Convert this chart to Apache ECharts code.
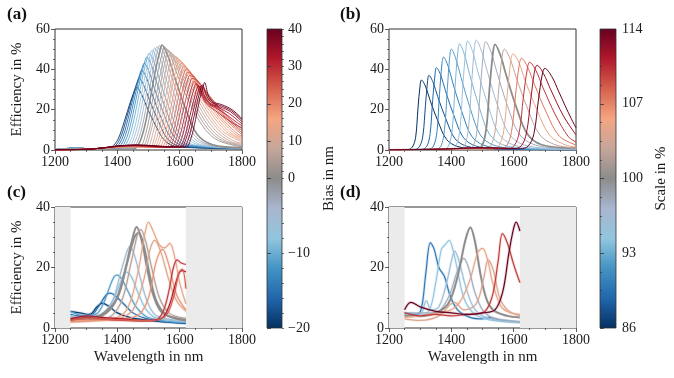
<!DOCTYPE html>
<html><head><meta charset="utf-8">
<script src="https://cdn.jsdelivr.net/npm/echarts@6/dist/echarts.min.js"></script>
<style>html,body{margin:0;padding:0;background:#fff}#c{width:674px;height:378px}</style>
</head><body><div id="c"></div>
<script>
// ---------- axis ranges & ticks ----------
const wavelengthRange = [1200, 1800];
const effRangeTop = [0, 60];
const effRangeBottom = [0, 40];
const measuredRange = [1250, 1620];
const biasTicks = [-20, -10, 0, 10, 20, 30, 40];
const scaleTicks = [86, 93, 100, 107, 114];

// ---------- (a) simulated, bias sweep ----------
const biasA = [-20,-18,-16,-14,-12,-10,-8,-6,-4,-2,0,2,4,6,8,10,12,14,16,18,20,22,24,26,28,30,32,34,36,38,40];
const effA = [
[[1200,0.2],[1270,1.0],[1330,0.4],[1362,0.4],[1382,1.5],[1402,5.3],[1422,14],[1442,23.9],[1456,29.5],[1462,31],[1477,27.9],[1492,22.3],[1522,12.4],[1552,4.7],[1592,1.6],[1800,0.6]],
[[1200,0.2],[1270,1.0],[1330,0.4],[1370,0.4],[1390,1.5],[1410,6],[1430,16],[1450,27.3],[1464,33.7],[1470,35.5],[1485,32],[1501,25.6],[1532,14.2],[1562,5.3],[1603,1.8],[1800,0.7]],
[[1200,0.2],[1270,1.0],[1330,0.4],[1378,0.4],[1398,1.5],[1418,6.7],[1438,17.8],[1458,30.4],[1472,37.5],[1478,39.5],[1494,35.6],[1510,28.4],[1541,15.8],[1573,5.9],[1615,2],[1800,0.8]],
[[1200,0.2],[1270,1.0],[1330,0.4],[1386,0.4],[1406,1.5],[1426,7.3],[1446,19.4],[1466,33.1],[1480,40.9],[1486,43],[1502,38.7],[1518,31],[1551,17.2],[1583,6.5],[1626,2.2],[1800,0.9]],
[[1200,0.2],[1270,1.0],[1330,0.4],[1394,0.4],[1414,1.5],[1434,7.8],[1454,20.7],[1474,35.4],[1488,43.7],[1494,46],[1511,41.4],[1527,33.1],[1560,18.4],[1593,6.9],[1637,2.3],[1800,0.9]],
[[1200,0.2],[1270,1.0],[1330,0.4],[1402,0.4],[1422,1.5],[1442,8.2],[1462,21.6],[1482,37],[1496,45.6],[1502,48],[1519,43.2],[1536,34.6],[1570,19.2],[1603,7.2],[1648,2.4],[1800,1]],
[[1200,0.2],[1270,0.9],[1330,0.4],[1411,0.4],[1431,1.5],[1451,8.4],[1471,22.3],[1491,38.1],[1505,47],[1511,49.5],[1528,44.6],[1546,35.6],[1580,19.8],[1615,7.4],[1661,2.5],[1800,1]],
[[1200,0.2],[1270,0.9],[1330,0.4],[1419,0.4],[1439,1.5],[1459,8.6],[1479,22.7],[1499,38.9],[1513,48],[1519,50.5],[1537,45.5],[1554,36.4],[1590,20.2],[1625,7.6],[1672,2.5],[1800,1]],
[[1200,0.2],[1270,0.8],[1330,0.4],[1427,0.4],[1447,1.5],[1467,8.7],[1487,23.1],[1507,39.5],[1521,48.7],[1527,51.3],[1545,46.2],[1563,36.9],[1599,20.5],[1635,7.7],[1683,2.6],[1800,1]],
[[1200,0.2],[1270,0.7],[1330,0.4],[1435,0.4],[1455,1.5],[1475,8.8],[1495,23.3],[1515,39.9],[1529,49.2],[1535,51.8],[1553,46.6],[1572,37.3],[1609,20.7],[1645,7.8],[1694,2.6],[1800,1.1]],
[[1200,0.1],[1270,0.5],[1330,0.4],[1443,0.4],[1463,1.5],[1483,8.8],[1503,23.4],[1523,40],[1537,49.4],[1543,52],[1562,46.8],[1581,37.4],[1618,20.8],[1656,7.8],[1706,2.6],[1800,1.2]],
[[1200,0.1],[1320,0.5],[1400,1.24],[1450,1.3],[1472,1.5],[1492,8.7],[1511,23],[1531,39.3],[1545,48.5],[1551,51],[1573,45.9],[1594,36.7],[1638,21.4],[1682,10.2],[1725,4.6],[1800,1.5]],
[[1200,0.1],[1320,0.5],[1400,1.28],[1460,1.42],[1480,1.5],[1500,8.5],[1519,22.5],[1539,38.5],[1552,47.5],[1558,50],[1581,45],[1603,36],[1648,21],[1693,10],[1738,4.5],[1800,2]],
[[1200,0.1],[1320,0.5],[1400,1.32],[1460,1.48],[1487,1.5],[1506,8.4],[1526,22.1],[1545,37.9],[1558,46.7],[1564,49.2],[1587,44.3],[1611,35.4],[1657,20.7],[1704,9.8],[1750,4.4],[1800,2.3]],
[[1200,0.1],[1320,0.5],[1400,1.36],[1460,1.54],[1495,1.5],[1514,8.2],[1533,21.7],[1552,37.2],[1565,45.9],[1571,48.3],[1595,43.5],[1619,34.8],[1667,20.3],[1715,9.7],[1763,4.3],[1800,2.8]],
[[1200,0.1],[1320,0.5],[1400,1.4],[1460,1.6],[1503,1.5],[1522,8],[1540,21.3],[1559,36.4],[1572,44.9],[1578,47.3],[1603,42.6],[1628,34.1],[1677,19.9],[1727,9.5],[1776,4.3],[1800,3.4]],
[[1200,0.1],[1320,0.5],[1400,1.44],[1460,1.66],[1486,1.2],[1511,1.5],[1530,7.9],[1548,20.9],[1567,35.7],[1579,44.1],[1585,46.4],[1611,41.8],[1636,33.4],[1687,19.5],[1738,9.3],[1800,4]],
[[1200,0.1],[1320,0.5],[1400,1.48],[1460,1.72],[1494,1.25],[1519,1.5],[1537,7.7],[1556,20.5],[1574,35],[1587,43.2],[1592,45.5],[1618,41],[1645,32.8],[1697,19.1],[1750,9.1],[1800,4.7]],
[[1200,0.1],[1320,0.5],[1400,1.52],[1460,1.78],[1501,1.25],[1526,1.5],[1544,7.6],[1562,20],[1580,34.3],[1593,42.3],[1598,44.5],[1625,40.1],[1652,32],[1706,18.7],[1760,8.9],[1800,5.4]],
[[1200,0.1],[1320,0.5],[1400,1.56],[1460,1.84],[1509,1.3],[1534,1.5],[1552,7.3],[1570,19.4],[1587,33.1],[1600,40.9],[1605,43],[1633,38.7],[1661,31],[1716,18.1],[1772,8.6],[1800,6]],
[[1200,0.1],[1320,0.5],[1400,1.6],[1460,1.9],[1517,1.3],[1542,1.5],[1560,7.1],[1577,18.7],[1595,32],[1607,39.4],[1612,41.5],[1641,37.4],[1669,29.9],[1726,17.4],[1783,8.3],[1800,6.8]],
[[1200,0.1],[1320,0.5],[1400,1.64],[1460,1.96],[1525,1.3],[1550,1.5],[1567,6.8],[1585,18],[1602,30.8],[1614,38],[1619,40],[1648,36],[1678,28.8],[1736,16.8],[1800,7.6]],
[[1200,0.1],[1320,0.5],[1400,1.68],[1460,2.02],[1533,1.35],[1558,1.5],[1575,6.5],[1592,17.3],[1609,29.6],[1621,36.6],[1626,38.5],[1656,34.7],[1686,27.7],[1746,16.2],[1800,8.5]],
[[1200,0.1],[1320,0.5],[1400,1.72],[1460,2.08],[1541,1.35],[1566,1.5],[1582,6.3],[1599,16.7],[1615,28.5],[1627,35.2],[1632,37],[1663,33.3],[1694,26.6],[1755,15.5],[1800,9.5]],
[[1200,0.1],[1320,0.5],[1400,1.76],[1460,2.14],[1549,1.4],[1574,1.5],[1590,6],[1606,16],[1623,27.3],[1634,33.7],[1639,35.5],[1670,32],[1702,25.6],[1765,14.9],[1800,10.5]],
[[1200,0.1],[1320,0.5],[1400,1.8],[1460,2.2],[1557,1.4],[1582,1.5],[1598,5.8],[1614,15.3],[1630,26.2],[1641,32.3],[1646,34],[1664,29],[1685,23],[1715,19.5],[1750,15.5],[1780,12.5],[1800,11]],
[[1200,0.1],[1320,0.5],[1400,1.84],[1460,2.26],[1565,1.45],[1590,1.5],[1606,5.6],[1621,14.9],[1637,25.4],[1648,31.4],[1653,33],[1670,28],[1690,23],[1720,20.5],[1755,17],[1785,13.5],[1800,12]],
[[1200,0.1],[1320,0.5],[1400,1.88],[1460,2.32],[1573,1.45],[1598,1.5],[1614,5.4],[1629,14.4],[1645,24.6],[1655,30.4],[1660,32],[1676,27],[1695,23],[1725,21],[1760,18],[1788,14.5],[1800,13]],
[[1200,0.1],[1320,0.5],[1400,1.92],[1460,2.38],[1580,1.5],[1605,1.5],[1620,5.4],[1636,14.2],[1651,24.3],[1661,29.9],[1666,31.5],[1681,26.5],[1699,23],[1728,21.5],[1763,19],[1790,15.5],[1800,14]],
[[1200,0.1],[1320,0.5],[1400,1.96],[1460,2.44],[1588,1.5],[1613,1.5],[1628,5.5],[1643,14.5],[1658,24.9],[1668,30.7],[1673,32.3],[1687,26.5],[1703,23.5],[1732,22],[1766,19.5],[1792,16],[1800,15]],
[[1200,0.1],[1320,0.5],[1400,2.0],[1460,2.5],[1596,1.5],[1621,1.5],[1636,5.7],[1651,15.1],[1665,25.8],[1676,31.8],[1680,33.5],[1692,27],[1705,24],[1735,22.5],[1768,20],[1794,16.5],[1800,15.5]]
];

// ---------- (b) simulated, scale sweep ----------
const scaleB = [86,87.5,89,90.5,92,93.5,95,96.5,98,100,102.5,105,107.5,110,112,114];
const effB = [
[[1200,0.05],[1250,0.2],[1264,0.3],[1277,2],[1286,6.9],[1293,20.8],[1300,32.3],[1304,34.7],[1318,31.2],[1331,25],[1358,13.9],[1385,5.2],[1421,1.7],[1484,0.5],[1800,0.1]],
[[1200,0.05],[1270,0.2],[1285,0.3],[1299,2],[1309,7.4],[1317,22.2],[1324,34.4],[1328,37],[1342,33.3],[1356,26.6],[1384,14.8],[1412,5.6],[1449,1.9],[1514,0.6],[1800,0.1]],
[[1200,0.05],[1290,0.2],[1307,0.3],[1322,2],[1332,8.2],[1340,24.5],[1348,37.9],[1352,40.8],[1367,36.7],[1381,29.4],[1410,16.3],[1439,6.1],[1478,2],[1546,0.6],[1800,0.15]],
[[1200,0.05],[1310,0.2],[1328,0.3],[1343,2],[1354,9.2],[1362,27.6],[1370,42.8],[1375,46],[1390,41.4],[1405,33.1],[1435,18.4],[1465,6.9],[1505,2.3],[1575,0.7],[1800,0.2]],
[[1200,0.05],[1330,0.2],[1350,0.3],[1367,2],[1378,10],[1387,30],[1395,46.5],[1400,50],[1415,45],[1431,36],[1462,20],[1493,7.5],[1534,2.5],[1606,0.75],[1800,0.2]],
[[1200,0.05],[1350,0.25],[1374,0.3],[1391,2],[1403,10.5],[1412,31.6],[1421,48.9],[1426,52.6],[1442,47.3],[1458,37.9],[1490,21],[1522,7.9],[1565,2.6],[1640,0.8],[1800,0.25]],
[[1200,0.05],[1370,0.25],[1397,0.3],[1415,2],[1428,10.8],[1437,32.4],[1447,50.2],[1452,54],[1469,48.6],[1485,38.9],[1519,21.6],[1552,8.1],[1596,2.7],[1674,0.8],[1800,0.3]],
[[1200,0.05],[1390,0.25],[1422,0.3],[1442,2],[1455,10.9],[1465,32.7],[1474,50.7],[1480,54.5],[1497,49],[1515,39.2],[1549,21.8],[1584,8.2],[1630,2.7],[1710,0.8],[1800,0.4]],
[[1200,0.05],[1410,0.25],[1449,0.3],[1470,2],[1483,10.7],[1494,32.2],[1504,49.9],[1510,53.7],[1528,48.3],[1546,38.7],[1581,21.5],[1617,8.1],[1665,2.7],[1748,0.8],[1800,0.5]],
[[1200,0.05],[1430,0.3],[1477,0.3],[1498,2],[1512,10.5],[1523,31.4],[1534,48.7],[1540,52.4],[1557,47.2],[1575,37.7],[1609,21],[1644,7.9],[1690,2.6],[1800,0.9]],
[[1200,0.05],[1380,0.3],[1450,0.5],[1490,0.4],[1504,0.3],[1526,2],[1541,10],[1552,30],[1563,46.5],[1570,50],[1589,45],[1608,36],[1646,20],[1684,7.5],[1735,2.5],[1800,1]],
[[1200,0.05],[1380,0.35],[1460,0.6],[1510,0.5],[1529,0.4],[1552,2],[1568,9.5],[1580,28.6],[1591,44.4],[1598,47.7],[1618,42.9],[1637,34.3],[1677,19.1],[1716,7.2],[1768,2.4],[1800,1.6]],
[[1200,0.05],[1380,0.4],[1470,0.75],[1530,0.6],[1553,0.5],[1577,2],[1593,9.1],[1606,27.3],[1618,42.3],[1625,45.5],[1645,41],[1666,32.8],[1706,18.2],[1747,6.8],[1800,2.5]],
[[1200,0.05],[1380,0.45],[1480,0.9],[1550,0.7],[1577,0.5],[1601,2],[1618,8.7],[1631,26.1],[1644,40.5],[1651,43.5],[1672,39.2],[1693,31.3],[1734,17.4],[1776,6.5],[1800,4]],
[[1200,0.05],[1380,0.5],[1490,1.0],[1570,0.8],[1598,0.6],[1624,2],[1641,8.4],[1655,25.2],[1667,39.1],[1675,42],[1696,37.8],[1718,30.2],[1760,16.8],[1800,7.5]],
[[1200,0.05],[1380,0.5],[1480,1.2],[1540,1.1],[1590,0.8],[1621,0.6],[1647,2],[1665,8.1],[1679,24.3],[1692,37.7],[1700,40.5],[1722,36.5],[1744,29.2],[1765,22],[1785,15.5],[1800,11]]
];

// ---------- (c) measured, bias sweep ----------
const biasC = [-19,-15,-11,-8,-5,0,0,6,14,12,18,28,32,24];
const effC = [
[[1250,5.5],[1280,5],[1310,4.5],[1335,7],[1352,8.2],[1375,7],[1400,5],[1440,3.5],[1480,2.8],[1530,2.2],[1580,1.8],[1620,1.5]],
[[1250,4.5],[1290,3.8],[1320,4.5],[1345,8],[1365,11],[1378,11.5],[1395,10.5],[1420,8],[1450,5],[1490,3.2],[1550,2.2],[1620,1.6]],
[[1250,5.5],[1290,4.2],[1330,4.5],[1355,8],[1375,13.5],[1390,17],[1400,17.5],[1415,16],[1435,12],[1460,7],[1490,4],[1530,2.6],[1580,2],[1620,1.8]],
[[1250,4.2],[1300,3.5],[1350,4.5],[1385,9],[1410,15],[1428,18.5],[1445,17],[1465,12],[1490,6.5],[1520,3.5],[1570,2.5],[1620,2]],
[[1250,3.8],[1300,3.2],[1350,4],[1385,9],[1410,18],[1430,25],[1440,27],[1455,24],[1475,16],[1495,9],[1520,4.5],[1560,3],[1620,2.3]],
[[1250,3],[1300,3],[1350,4],[1390,8],[1420,17],[1445,28],[1462,33.4],[1478,29],[1495,20],[1515,11],[1540,5.5],[1575,3.5],[1620,2.5]],
[[1250,3.2],[1300,3.3],[1350,4.5],[1400,10],[1430,21],[1455,30],[1468,31.5],[1485,27],[1505,17],[1525,9],[1555,4.5],[1590,3.2],[1620,2.8]],
[[1250,2.5],[1300,2.8],[1360,3],[1410,8],[1445,22],[1465,31],[1475,32.5],[1490,29],[1510,20],[1535,10],[1565,5],[1600,3.5],[1620,3.2]],
[[1250,2.2],[1300,2.5],[1380,3],[1430,6],[1465,18],[1488,31],[1500,35],[1515,32],[1535,27.5],[1552,26.5],[1568,28],[1585,23],[1600,15],[1620,8]],
[[1250,2],[1320,2.3],[1400,3],[1450,6],[1485,16],[1505,26],[1520,29],[1540,25],[1565,16],[1590,9],[1620,5.5]],
[[1250,2],[1330,2.5],[1420,3],[1470,4.5],[1500,10],[1525,22],[1545,26],[1565,21],[1590,11],[1620,6]],
[[1250,2.5],[1300,3.5],[1350,3],[1420,2.5],[1480,2.3],[1520,2.5],[1545,5],[1565,12],[1580,20],[1592,22.5],[1605,21.5],[1620,21]],
[[1250,3],[1300,4],[1350,3.5],[1420,3],[1490,2.5],[1540,3],[1565,7],[1585,14],[1600,18.5],[1610,19],[1620,18.5]],
[[1250,2.5],[1300,3],[1380,2.8],[1450,2.5],[1510,2.5],[1555,4],[1580,10],[1597,18],[1608,19.5],[1620,13]]
];

// ---------- (d) measured, scale sweep ----------
const scaleD = [90,94.4,95.8,97.8,100,105,104,109.8,114];
const effD = [
[[1250,5],[1290,4.5],[1305,7],[1318,18],[1333,28.2],[1345,26],[1360,20],[1378,17],[1395,11],[1420,6],[1460,3.5],[1500,3],[1520,3.5],[1560,2.5],[1620,2]],
[[1250,4.5],[1300,4],[1330,6],[1350,15],[1368,26],[1380,27.5],[1393,29],[1405,26],[1420,19],[1440,10],[1470,5],[1510,3],[1560,2.2],[1620,1.8]],
[[1250,4],[1300,4.5],[1320,9],[1335,6],[1360,7],[1385,15],[1400,22],[1411,25.4],[1425,22],[1445,14],[1470,7],[1500,4],[1550,2.5],[1620,2]],
[[1250,5],[1300,5],[1350,5],[1390,10],[1420,19],[1440,23],[1455,20],[1475,12],[1500,6],[1530,3.5],[1580,2.5],[1620,2]],
[[1250,4],[1300,4],[1350,5],[1390,8],[1420,17],[1445,29],[1461,33.2],[1475,29],[1495,17],[1515,9],[1540,5.5],[1580,4],[1620,3.5]],
[[1250,3.5],[1300,4],[1360,5],[1400,6],[1430,9],[1460,16],[1485,25],[1500,26.3],[1515,23],[1535,14],[1560,7],[1590,5],[1620,4.5]],
[[1250,3],[1300,2.5],[1360,4],[1410,8.5],[1440,6],[1480,8],[1505,17],[1518,22.5],[1535,19],[1555,10],[1580,6],[1620,4]],
[[1250,5],[1300,4],[1350,4.5],[1400,4],[1450,4.5],[1500,5],[1530,10],[1550,22],[1564,31.2],[1580,28],[1600,21],[1620,15]],
[[1250,6],[1270,8.5],[1300,7],[1350,5.5],[1400,5],[1450,4.5],[1500,5],[1540,6],[1565,12],[1585,25],[1600,33],[1608,35],[1620,32]]
];

// ---------- styling helpers ----------
const FONT = 'Liberation Serif';
const TXT = '#1a1a1a';
const FRAME = '#333';
const CMAP = [[0,'#053061'],[0.1,'#2166ac'],[0.2,'#4393c3'],[0.3,'#92c5de'],[0.4,'#a9b6cf'],[0.5,'#8c8c8c'],[0.6,'#c6a69a'],[0.7,'#f4a582'],[0.8,'#d6604d'],[0.9,'#b2182b'],[1,'#67001f']];
function hex(h){return [parseInt(h.substr(1,2),16),parseInt(h.substr(3,2),16),parseInt(h.substr(5,2),16)];}
function cmap(f){
  f=Math.max(0,Math.min(1,f));
  for(let i=0;i<CMAP.length-1;i++){
    const [o0,c0]=CMAP[i],[o1,c1]=CMAP[i+1];
    if(f<=o1){const t=(f-o0)/(o1-o0);const a=hex(c0),b=hex(c1);
      return 'rgb('+a.map((v,j)=>Math.round(v+(b[j]-v)*t)).join(',')+')';}
  }
  return CMAP[CMAP.length-1][1];
}
const biasFrac = b => b<0 ? (b+20)/40 : 0.5 + b/80;
const scaleFrac = s => (s-86)/28;
const gradient = {type:'linear',x:0,y:1,x2:0,y2:0,colorStops:CMAP.map(([o,c])=>({offset:o,color:c}))};

const series = [];
function addCurves(gi, vals, curves, fracFn, o){
  vals.forEach((v,i)=>{
    const col = cmap(fracFn(v));
    const center = (v===o.center);
    if(o.halo) series.push({type:'line',xAxisIndex:gi,yAxisIndex:gi,data:curves[i],showSymbol:false,smooth:0.35,silent:true,z:2,
      lineStyle:{color:col,width:3,opacity:0.16}});
    series.push({type:'line',xAxisIndex:gi,yAxisIndex:gi,data:curves[i],showSymbol:false,smooth:0.35,silent:true,z:3,
      lineStyle:{color:col,width:center?o.cw:o.w}});
  });
}
function shade(gi){
  series.push({type:'line',xAxisIndex:gi,yAxisIndex:gi,data:[[wavelengthRange[0],0]],showSymbol:false,silent:true,z:1,
    lineStyle:{opacity:0},
    markArea:{silent:true,itemStyle:{color:'#ebebeb'},data:[
      [{xAxis:wavelengthRange[0]},{xAxis:measuredRange[0]}],
      [{xAxis:measuredRange[1]},{xAxis:wavelengthRange[1]}]]}});
}
shade(2); shade(3);
addCurves(0, biasA, effA, biasFrac, {w:0.9, cw:1.6, center:0});
addCurves(1, scaleB, effB, scaleFrac, {w:1.0, cw:1.8, center:100});
addCurves(2, biasC, effC, biasFrac, {w:1.2, cw:1.9, center:0, halo:true});
addCurves(3, scaleD, effD, scaleFrac, {w:1.2, cw:1.9, center:100, halo:true});

const grids = [
  {left:55,top:29,width:187,height:121},
  {left:389,top:29,width:187,height:121},
  {left:55,top:207,width:187,height:121},
  {left:389,top:207,width:187,height:121}
].map(g=>Object.assign(g,{show:true,borderColor:FRAME,borderWidth:1,backgroundColor:'transparent'}));
grids.push({left:267,top:29,width:15,height:299,show:true,borderColor:FRAME,borderWidth:0.8,backgroundColor:gradient});
grids.push({left:600,top:29,width:16,height:299,show:true,borderColor:FRAME,borderWidth:0.8,backgroundColor:gradient});

const lbl = {color:TXT,fontFamily:FONT,fontSize:14};
const nameStyle = {color:TXT,fontFamily:FONT,fontSize:15};
const minus = v => { const n=Number(v); return n<0 ? '\u2212'+Math.abs(n) : String(n); };

function xMain(gi, named){
  return {type:'value',gridIndex:gi,min:wavelengthRange[0],max:wavelengthRange[1],interval:200,
    axisLine:{show:false},splitLine:{show:false},
    axisTick:{show:true,length:4,lineStyle:{color:FRAME,width:0.8}},
    minorTick:{show:true,splitNumber:4,length:2,lineStyle:{color:FRAME,width:0.7}},
    axisLabel:Object.assign({margin:5,formatter:minus},lbl),
    name:named?'Wavelength in nm':'',nameLocation:'middle',nameGap:22,nameTextStyle:nameStyle};
}
function yMain(gi, range, named){
  return {type:'value',gridIndex:gi,min:range[0],max:range[1],interval:20,
    axisLine:{show:false},splitLine:{show:false},
    axisTick:{show:true,length:4,lineStyle:{color:FRAME,width:0.8}},
    minorTick:{show:true,splitNumber:4,length:2,lineStyle:{color:FRAME,width:0.7}},
    axisLabel:Object.assign({margin:5,formatter:minus},lbl),
    name:named?'Efficiency in %':'',nameLocation:'middle',nameGap:30,nameTextStyle:nameStyle};
}
// bias colorbar: two-slope norm (-20..0 lower half, 0..40 upper half) via category positions
const cbCats = [];
for(let b=-20;b<=0;b+=1) cbCats.push(String(b));
for(let b=2;b<=40;b+=2) cbCats.push(String(b));
const isMajor = (i,v) => biasTicks.indexOf(Number(v))>=0;
const isMinor = (i,v) => Number(v)%2===0;

const xAxes = [xMain(0,false),xMain(1,false),xMain(2,true),xMain(3,true),
  {type:'value',gridIndex:4,min:0,max:1,show:false},
  {type:'value',gridIndex:5,min:0,max:1,show:false}];
const yAxes = [yMain(0,effRangeTop,true),yMain(1,effRangeTop,false),yMain(2,effRangeBottom,true),yMain(3,effRangeBottom,false),
  {type:'category',gridIndex:4,position:'right',data:cbCats,boundaryGap:false,
    axisLine:{show:false},splitLine:{show:false},
    axisTick:{show:true,interval:isMajor,length:4,lineStyle:{color:FRAME,width:0.8}},
    axisLabel:Object.assign({interval:isMajor,formatter:minus,margin:6},lbl),
    name:'Bias in nm',nameLocation:'middle',nameGap:40,nameRotate:90,nameTextStyle:nameStyle},
  {type:'category',gridIndex:4,position:'right',data:cbCats,boundaryGap:false,
    axisLine:{show:false},splitLine:{show:false},
    axisTick:{show:true,interval:isMinor,length:2,lineStyle:{color:FRAME,width:0.7}},
    axisLabel:{show:false}},
  {type:'value',gridIndex:5,position:'right',min:scaleTicks[0],max:scaleTicks[scaleTicks.length-1],interval:7,
    axisLine:{show:false},splitLine:{show:false},
    axisTick:{show:true,length:4,lineStyle:{color:FRAME,width:0.8}},
    minorTick:{show:true,splitNumber:4,length:2,lineStyle:{color:FRAME,width:0.7}},
    axisLabel:Object.assign({margin:6,formatter:minus},lbl),
    name:'Scale in %',nameLocation:'middle',nameGap:38,nameRotate:90,nameTextStyle:nameStyle}
];

const panelLabel = (t,x,y) => ({type:'text',left:x,top:y,silent:true,
  style:{text:t,fill:'#111',font:'bold 17px "Liberation Serif"'}});

const chart = echarts.init(document.getElementById('c'),null,{renderer:'canvas'});
chart.setOption({
  animation:false,
  backgroundColor:'#fff',
  grid:grids,
  xAxis:xAxes,
  yAxis:yAxes,
  series:series,
  graphic:[panelLabel('(a)',7,6),panelLabel('(b)',340,6),panelLabel('(c)',7,184),panelLabel('(d)',340,184)]
});
</script>
</body></html>
